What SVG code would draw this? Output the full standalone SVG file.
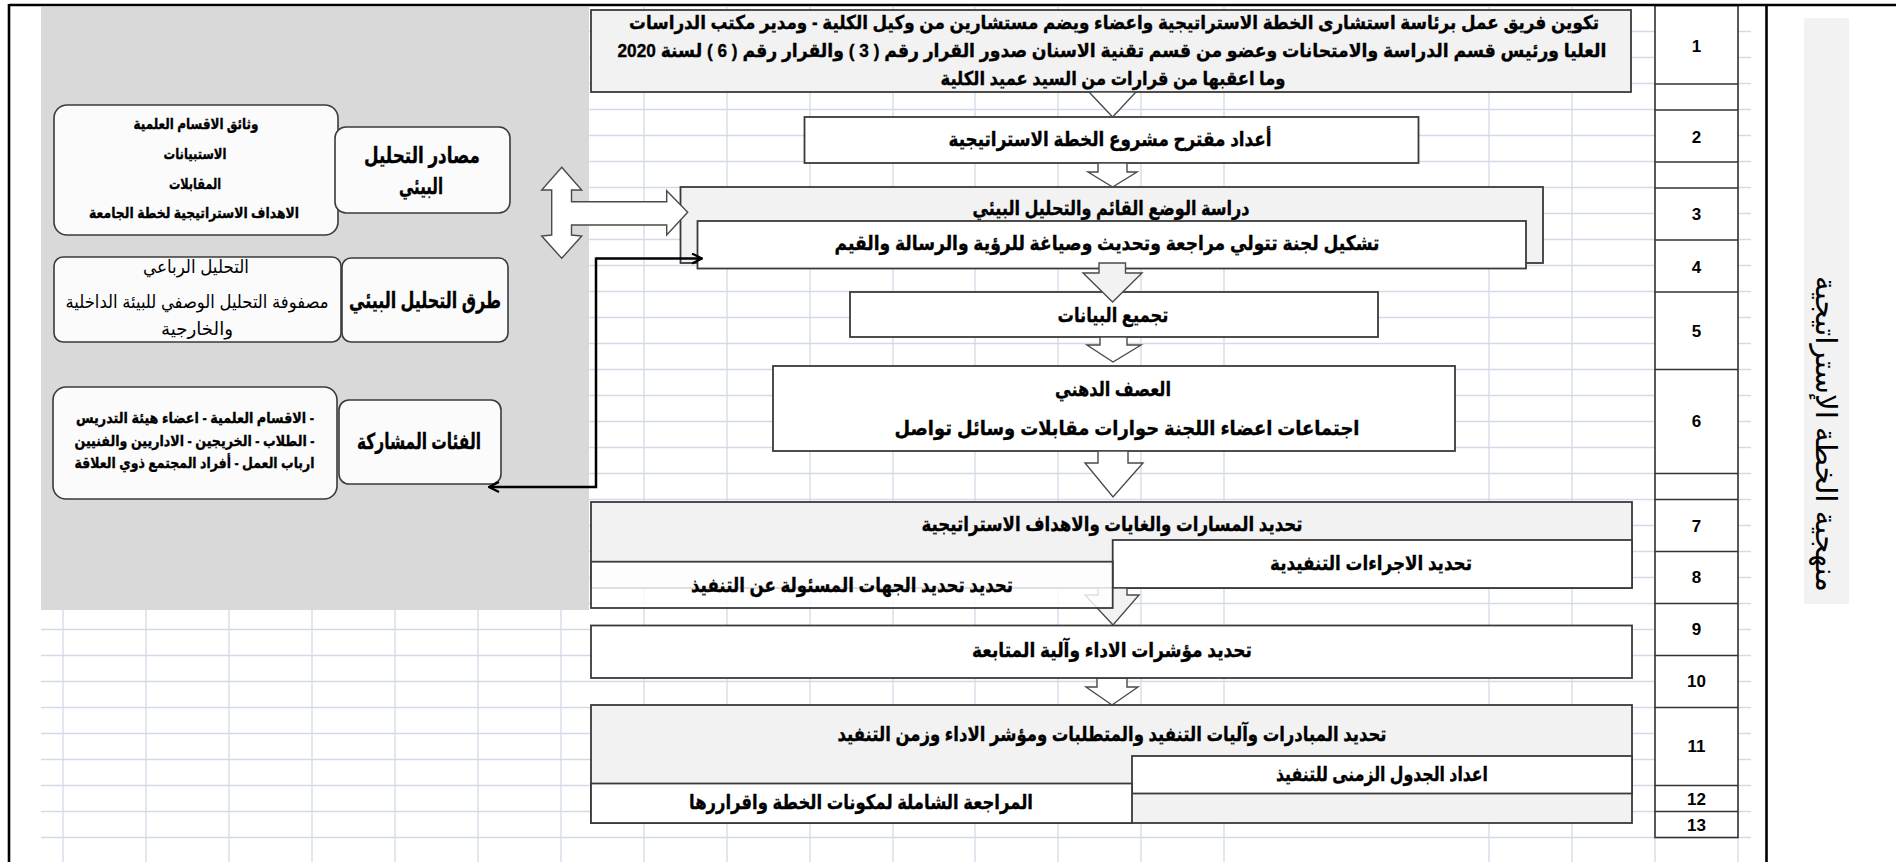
<svg xmlns="http://www.w3.org/2000/svg" width="1896" height="862" viewBox="0 0 1896 862">
<defs>
<style>
.grid{stroke:#d3d9e6;stroke-width:1.3;fill:none}
.box{stroke:#3a3a3a;stroke-width:1.8}
.wf{fill:#ffffff}
.gf{fill:#f2f2f2}
.rbox{fill:#fbfbfb;stroke:#3a3a3a;stroke-width:1.6}
.barrow{stroke:#4a4a4a;stroke-width:1.4;stroke-linejoin:miter}
.t{font-family:"Liberation Sans","DejaVu Sans",sans-serif;font-weight:bold;fill:#000;stroke:#000;stroke-width:0.35;text-anchor:middle;dominant-baseline:central}
.tr{font-family:"Liberation Sans","DejaVu Sans",sans-serif;font-weight:normal;fill:#000;text-anchor:middle;dominant-baseline:central}
.m{font-size:20px}
.b1{font-size:19px}
.s{font-size:15px}
.h{font-size:22px}
.num{font-family:"Liberation Sans Narrow","Liberation Sans",sans-serif;font-weight:bold;font-size:17px;fill:#000;text-anchor:middle;dominant-baseline:central}
.conn{stroke:#000;stroke-width:2.5;fill:none}
</style>
<marker id="open" viewBox="0 0 12 12" refX="11" refY="6" markerWidth="12" markerHeight="12" markerUnits="userSpaceOnUse" orient="auto-start-reverse">
<path d="M1,1 L11,6 L1,11" fill="none" stroke="#000" stroke-width="2.2"/>
</marker>
</defs>
<rect x="0" y="0" width="1896" height="862" fill="#ffffff"/>

<g id="gridlines">
<path class="grid" d="M41,31.5H1751M41,57.5H1751M41,83.5H1751M41,109.5H1751M41,135.5H1751M41,161.5H1751M41,187.5H1751M41,213.5H1751M41,239.5H1751M41,265.5H1751M41,291.5H1751M41,317.5H1751M41,343.5H1751M41,369.5H1751M41,395.5H1751M41,421.5H1751M41,447.5H1751M41,473.5H1751M41,499.5H1751M41,525.5H1751M41,551.5H1751M41,577.5H1751M41,603.5H1751M41,629.5H1751M41,655.5H1751M41,681.5H1751M41,707.5H1751M41,733.5H1751M41,759.5H1751M41,785.5H1751M41,811.5H1751M41,837.5H1751"/>
<path class="grid" d="M63,7V862M146,7V862M229,7V862M312,7V862M395,7V862M478,7V862M561,7V862M644,7V862M727,7V862M810,7V862M893,7V862M975,7V862M1058,7V862M1141,7V862M1224,7V862M1489,7V862M1572,7V862M1655,7V862M1738,7V862"/>
</g>

<rect id="gray-panel" x="41" y="7" width="548" height="603" fill="#d9d9d9"/>

<g id="sources">
<rect class="rbox" x="54" y="105" width="284" height="130" rx="13"/>
<text class="t s" x="196" y="123" textLength="125" lengthAdjust="spacingAndGlyphs">وثائق الاقسام العلمية</text>
<text class="t s" x="195" y="153" textLength="63" lengthAdjust="spacingAndGlyphs">الاستبيانات</text>
<text class="t s" x="195" y="183" textLength="52" lengthAdjust="spacingAndGlyphs">المقابلات</text>
<text class="t s" x="194" y="212" textLength="210" lengthAdjust="spacingAndGlyphs">الاهداف الاستراتيجية لخطة الجامعة</text>
<rect class="rbox" x="335" y="127" width="175" height="86" rx="11"/>
<text class="t h" x="422" y="155" textLength="116" lengthAdjust="spacingAndGlyphs">مصادر التحليل</text>
<text class="t h" x="421" y="186" textLength="44" lengthAdjust="spacingAndGlyphs">البيئي</text>
</g>

<g id="methods">
<rect class="rbox" x="54" y="257" width="287" height="85" rx="9"/>
<text class="tr" font-size="18" x="196" y="267" textLength="106" lengthAdjust="spacingAndGlyphs">التحليل الرباعي</text>
<text class="tr" font-size="18" x="197" y="302" textLength="263" lengthAdjust="spacingAndGlyphs">مصفوفة التحليل الوصفي للبيئة الداخلية</text>
<text class="tr" font-size="18" x="197" y="329" textLength="72" lengthAdjust="spacingAndGlyphs">والخارجية</text>
<rect class="rbox" x="342" y="258" width="166" height="84" rx="9"/>
<text class="t h" x="425" y="300" textLength="152" lengthAdjust="spacingAndGlyphs">طرق التحليل البيئي</text>
</g>

<g id="participants">
<rect class="rbox" x="53" y="387" width="284" height="112" rx="13"/>
<text class="t s" x="195" y="417" textLength="238" lengthAdjust="spacingAndGlyphs">الاقسام العلمية - اعضاء هيئة التدريس -</text>
<text class="t s" x="194.5" y="440" textLength="240" lengthAdjust="spacingAndGlyphs">الطلاب - الخريجين - الاداريين والفنيين -</text>
<text class="t s" x="194.5" y="462" textLength="240" lengthAdjust="spacingAndGlyphs">ارباب العمل - أفراد المجتمع ذوي العلاقة</text>
<rect class="rbox" x="339" y="400" width="162" height="84" rx="10"/>
<text class="t h" x="419" y="441" textLength="124" lengthAdjust="spacingAndGlyphs">الفئات المشاركة</text>
</g>

<g id="number-table">
<rect x="1655" y="5.5" width="83" height="832" fill="#ffffff" stroke="#333" stroke-width="1.6"/>
<path d="M1655,84H1738M1655,110H1738M1655,162H1738M1655,188H1738M1655,240H1738M1655,292H1738M1655,369.5H1738M1655,473.5H1738M1655,499.5H1738M1655,551.5H1738M1655,603.5H1738M1655,655.5H1738M1655,707.5H1738M1655,785.5H1738M1655,811.5H1738" stroke="#333" stroke-width="1.6" fill="none"/>
<text class="num" x="1696.5" y="46">1</text>
<text class="num" x="1696.5" y="137">2</text>
<text class="num" x="1696.5" y="214">3</text>
<text class="num" x="1696.5" y="267">4</text>
<text class="num" x="1696.5" y="331">5</text>
<text class="num" x="1696.5" y="421">6</text>
<text class="num" x="1696.5" y="526">7</text>
<text class="num" x="1696.5" y="577">8</text>
<text class="num" x="1696.5" y="629">9</text>
<text class="num" x="1696.5" y="681">10</text>
<text class="num" x="1696.5" y="746">11</text>
<text class="num" x="1696.5" y="799">12</text>
<text class="num" x="1696.5" y="825">13</text>
</g>

<g id="step1">
<rect class="box gf" x="591" y="10" width="1040" height="82"/>
<text class="t b1" x="1114" y="22" textLength="970" lengthAdjust="spacingAndGlyphs">تكوين فريق عمل برئاسة استشارى الخطة الاستراتيجية واعضاء ويضم مستشارين من وكيل الكلية - ومدير مكتب الدراسات</text>
<text class="t b1" x="1112" y="50" textLength="989" lengthAdjust="spacingAndGlyphs">العليا ورئيس قسم الدراسة والامتحانات وعضو من قسم تقنية الاسنان صدور القرار رقم ( 3 ) والقرار رقم ( 6 ) لسنة 2020</text>
<text class="t b1" x="1113" y="78" textLength="345" lengthAdjust="spacingAndGlyphs">وما اعقبها من قرارات من السيد عميد الكلية</text>
</g>

<g id="step2">
<rect class="box wf" x="804.5" y="117" width="614" height="46"/>
<text class="t m" x="1110" y="139" textLength="323" lengthAdjust="spacingAndGlyphs">أعداد مقترح مشروع الخطة الاستراتيجية</text>
</g>

<g id="step3">
<rect class="box gf" x="680.5" y="187" width="862.5" height="76"/>
<text class="t m" x="1111" y="208" textLength="277" lengthAdjust="spacingAndGlyphs">دراسة الوضع القائم والتحليل البيئي</text>
</g>

<g id="step4">
<rect class="box wf" x="697.5" y="221" width="828.5" height="47.5"/>
<text class="t m" x="1107" y="243" textLength="545" lengthAdjust="spacingAndGlyphs">تشكيل لجنة تتولي مراجعة وتحديث وصياغة للرؤية والرسالة والقيم</text>
</g>

<g id="step5">
<rect class="box wf" x="850" y="292" width="528" height="45"/>
<text class="t m" x="1113" y="315" textLength="111" lengthAdjust="spacingAndGlyphs">تجميع البيانات</text>
</g>

<g id="step6">
<rect class="box wf" x="773" y="366" width="682" height="85"/>
<text class="t m" x="1113" y="389" textLength="116" lengthAdjust="spacingAndGlyphs">العصف الدهني</text>
<text class="t m" x="1127" y="428" textLength="465" lengthAdjust="spacingAndGlyphs">اجتماعات اعضاء اللجنة حوارات مقابلات وسائل تواصل</text>
</g>

<g id="step7">
<rect class="box gf" x="591" y="502" width="1041" height="86"/>
<text class="t m" x="1112" y="524" textLength="381" lengthAdjust="spacingAndGlyphs">تحديد المسارات والغايات والاهداف الاستراتيجية</text>
</g>

<g id="step8b">
<rect class="box wf" x="1112.7" y="540" width="519.3" height="48"/>
<text class="t m" x="1371" y="563" textLength="202" lengthAdjust="spacingAndGlyphs">تحديد الاجراءات التنفيدية</text>
</g>

<g id="connectors">
<polygon class="barrow wf" points="1089,92 1112.6,117 1136,92"/>
<polygon class="barrow wf" points="1098,163 1127,163 1127,172 1137,172 1112.6,187 1088,172 1098,172"/>
<polygon class="barrow gf" points="1099,263 1125.5,263 1125.5,273 1142,273 1112.6,302 1083,273 1099,273"/>
<polygon class="barrow wf" points="1100,337 1127,337 1127,345 1141,345 1113,362 1087,345 1100,345"/>
<polygon class="barrow wf" points="1098,451 1128,451 1128,463 1143,463 1113,497 1085,463 1098,463"/>
<polygon class="barrow gf" points="1098,588 1127,588 1127,595 1139,595 1113,625 1085,595 1098,595"/>
<polygon class="barrow wf" points="1097,678 1127,678 1127,687 1138,687 1112,705 1086,687 1097,687"/>
<polygon class="barrow wf" points="561.7,167.3 581.7,190 571.5,190 571.5,201.7 666.7,201.7 666.7,190.7 687.7,212.3 666.7,235 666.7,225 571.5,225 571.5,235 581.7,236 561.7,258.3 541.7,236 551.7,235 551.7,190 541.7,190"/>
<path class="conn" d="M596,258.5H702" marker-end="url(#open)"/>
<path class="conn" d="M596,257.5V487H489" marker-end="url(#open)"/>
</g>

<g id="step8a">
<rect class="box" x="591" y="561.7" width="521.7" height="46.3" fill="#ffffff" fill-opacity="0.82"/>
<text class="t m" x="852" y="585" textLength="322" lengthAdjust="spacingAndGlyphs">تحديد تحديد الجهات المسئولة عن التنفيذ</text>
</g>

<g id="step9">
<rect class="box wf" x="591" y="625.5" width="1041" height="52.5"/>
<text class="t m" x="1112" y="650" textLength="280" lengthAdjust="spacingAndGlyphs">تحديد مؤشرات الاداء وآلية المتابعة</text>
</g>

<g id="step11">
<rect class="box gf" x="591" y="705" width="1041" height="118"/>
<text class="t m" x="1112" y="734" textLength="549" lengthAdjust="spacingAndGlyphs">تحديد المبادرات وآليات التنفيد والمتطلبات ومؤشر الاداء وزمن التنفيد</text>
</g>

<g id="step11b">
<rect class="box wf" x="1132" y="756" width="500" height="37.5"/>
<text class="t m" x="1382" y="774" textLength="212" lengthAdjust="spacingAndGlyphs">اعداد الجدول الزمنى للتنفيذ</text>
</g>

<g id="step12">
<rect class="box wf" x="591" y="783.5" width="541" height="39.5"/>
<text class="t m" x="861" y="802" textLength="344" lengthAdjust="spacingAndGlyphs">المراجعة الشاملة لمكونات الخطة واقراررها</text>
</g>

<g id="frame">
<path d="M9,5H1896M9,4V862M1766.5,5V862" stroke="#000" stroke-width="2.6" fill="none"/>
</g>

<g id="title">
<rect x="1804" y="18" width="45" height="586" fill="#f2f2f2"/>
<text class="tr" font-size="29" transform="translate(1826,434) rotate(90)" x="0" y="0" textLength="316" lengthAdjust="spacingAndGlyphs">منهجية الخطة الإستراتيجية</text>
</g>
</svg>
